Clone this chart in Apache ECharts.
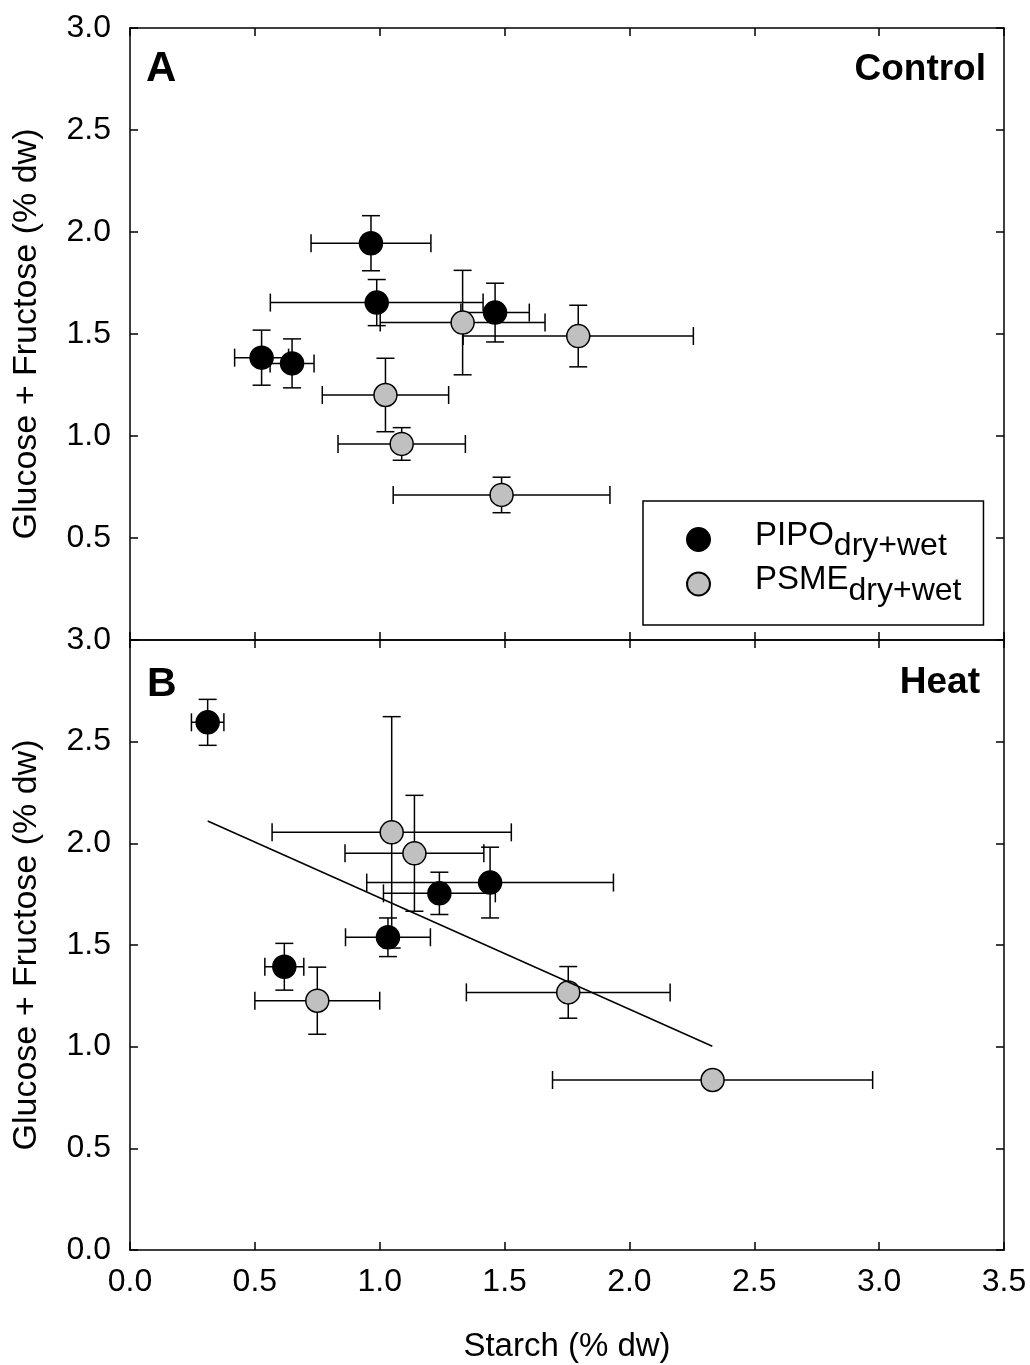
<!DOCTYPE html>
<html>
<head>
<meta charset="utf-8">
<script src="https://cdn.jsdelivr.net/npm/echarts@6/dist/echarts.min.js"></script>
<style>html,body{margin:0;padding:0;background:#fff}#c{width:1030px;height:1365px}</style>
</head>
<body>
<div id="c"></div>
<script>
// ---- Data ----
const xTicks = [0, 3.5, 0.5];      // min, max, interval (Starch)
const yTicks = [0, 3, 0.5];        // min, max, interval (Glucose + Fructose)

// Panel A (Control)
const pipoA_x    = [0.965, 0.988, 1.462, 0.527, 0.649];
const pipoA_y    = [1.945, 1.654, 1.605, 1.384, 1.356];
const pipoA_xerr = [0.240, 0.426, 0.137, 0.108, 0.088];
const pipoA_yerr = [0.135, 0.113, 0.144, 0.135, 0.120];

const psmeA_x    = [1.332, 1.795, 1.023, 1.088, 1.488];
const psmeA_y    = [1.556, 1.490, 1.201, 0.961, 0.711];
const psmeA_xerr = [0.330, 0.461, 0.253, 0.255, 0.434];
const psmeA_yerr = [0.256, 0.151, 0.180, 0.080, 0.087];

// Panel B (Heat)
const pipoB_x    = [0.311, 1.442, 1.239, 1.033, 0.618];
const pipoB_y    = [2.595, 1.807, 1.754, 1.538, 1.393];
const pipoB_xerr = [0.065, 0.494, 0.224, 0.170, 0.078];
const pipoB_yerr = [0.113, 0.174, 0.104, 0.095, 0.115];

const psmeB_x    = [1.048, 1.139, 0.750, 1.755, 2.333];
const psmeB_y    = [2.054, 1.951, 1.226, 1.267, 0.836];
const psmeB_xerr = [0.479, 0.278, 0.250, 0.408, 0.641];
const psmeB_yerr = [0.569, 0.285, 0.165, 0.127, 0.025];

// Regression line in panel B: y = intercept + slope * x, over x range
const regB = { intercept: 2.28, slope: -0.548 };
const regB_xRange = [0.311, 2.332];

const seriesNames = ['PIPO', 'PSME'];
const panelLabels = ['A', 'B'];
const panelTitles = ['Control', 'Heat'];
const xTitle = 'Starch (% dw)';
const yTitle = 'Glucose + Fructose (% dw)';
const subscript = 'dry+wet';

// ---- Build ----
const FONT = '"Liberation Sans", Arial, sans-serif';
const zip = (xs, ys, ex, ey) => xs.map((x, i) => [x, ys[i], ex[i], ey[i]]);

function errRender(params, api) {
  const x = api.value(0), y = api.value(1), ex = api.value(2), ey = api.value(3);
  const l = api.coord([x - ex, y]), r = api.coord([x + ex, y]);
  const t = api.coord([x, y + ey]), b = api.coord([x, y - ey]);
  const cap = 9;
  const st = { stroke: '#000', lineWidth: 1.5 };
  const ln = (x1, y1, x2, y2) => ({ type: 'line', shape: { x1, y1, x2, y2 }, style: st });
  return {
    type: 'group',
    children: [
      ln(l[0], l[1], r[0], r[1]),
      ln(t[0], t[1], b[0], b[1]),
      ln(l[0], l[1] - cap, l[0], l[1] + cap),
      ln(r[0], r[1] - cap, r[0], r[1] + cap),
      ln(t[0] - cap, t[1], t[0] + cap, t[1]),
      ln(b[0] - cap, b[1], b[0] + cap, b[1])
    ]
  };
}

const mkLine = () => ({ show: true, onZero: false, lineStyle: { color: '#000', width: 1.5 } });
const mkTick = () => ({ show: true, inside: true, length: 8, lineStyle: { color: '#000', width: 1.5 } });

function xAx(grid, pos, labels) {
  return {
    type: 'value', gridIndex: grid, position: pos,
    min: xTicks[0], max: xTicks[1], interval: xTicks[2],
    axisLine: mkLine(), axisTick: mkTick(), splitLine: { show: false },
    axisLabel: { show: labels, margin: 16, fontSize: 32, fontFamily: FONT, color: '#000',
      formatter: v => v.toFixed(1) },
    name: labels ? xTitle : '', nameLocation: 'middle', nameGap: 80,
    nameTextStyle: { fontSize: 33, fontFamily: FONT, color: '#000' }
  };
}
function yAx(grid, pos, labels, showMin) {
  return {
    type: 'value', gridIndex: grid, position: pos,
    min: yTicks[0], max: yTicks[1], interval: yTicks[2],
    axisLine: mkLine(), axisTick: mkTick(), splitLine: { show: false },
    axisLabel: { show: labels, showMinLabel: showMin, margin: 19, fontSize: 32, fontFamily: FONT, color: '#000',
      formatter: v => v.toFixed(1) },
    name: labels ? yTitle : '', nameLocation: 'middle', nameGap: 86,
    nameTextStyle: { fontSize: 34, fontFamily: FONT, color: '#000' }
  };
}

const symbolSize = 23;
const blackStyle = { color: '#000', borderColor: '#000', borderWidth: 1.5, opacity: 1 };
const grayStyle = { color: '#c0c0c0', borderColor: '#000', borderWidth: 1.5, opacity: 1 };

function scatter(name, grid, xs, ys, style) {
  return {
    type: 'scatter', name, xAxisIndex: grid * 2, yAxisIndex: grid * 2,
    data: xs.map((x, i) => [x, ys[i]]), symbol: 'circle', symbolSize,
    itemStyle: style, z: 3, silent: true
  };
}
function errs(grid, data) {
  return {
    type: 'custom', xAxisIndex: grid * 2, yAxisIndex: grid * 2,
    data, renderItem: errRender, encode: { x: 0, y: 1 }, z: 2, silent: true, clip: false
  };
}

const regData = regB_xRange.map(x => [x, regB.intercept + regB.slope * x]);

const option = {
  backgroundColor: '#fff',
  animation: false,
  grid: [
    { left: 130, top: 28, width: 874, height: 612 },
    { left: 130, top: 640, width: 874, height: 610 }
  ],
  xAxis: [xAx(0, 'bottom', false), xAx(0, 'top', false), xAx(1, 'bottom', true), xAx(1, 'top', false)],
  yAxis: [yAx(0, 'left', true, false), yAx(0, 'right', false, false), yAx(1, 'left', true, true), yAx(1, 'right', false, false)],
  title: [
    { text: panelLabels[0], left: 146, top: 48, padding: 0, textStyle: { fontSize: 42, fontWeight: 'bold', fontFamily: FONT, color: '#000' } },
    { text: panelTitles[0], right: 44, top: 51, padding: 0, textStyle: { fontSize: 37, fontWeight: 'bold', fontFamily: FONT, color: '#000' } },
    { text: panelLabels[1], left: 147, top: 664, padding: 0, textStyle: { fontSize: 41, fontWeight: 'bold', fontFamily: FONT, color: '#000' } },
    { text: panelTitles[1], right: 50, top: 664, padding: 0, textStyle: { fontSize: 37, fontWeight: 'bold', fontFamily: FONT, color: '#000' } }
  ],
  legend: {
    data: seriesNames,
    orient: 'vertical',
    left: 643, top: 501,
    padding: [18, 22, 18, 43],
    itemGap: 1,
    itemWidth: 23, itemHeight: 23,
    icon: 'circle',
    selectedMode: false,
    borderColor: '#000', borderWidth: 1.5, borderRadius: 0,
    backgroundColor: '#fff',
    formatter: n => '{m|' + n + '}{s|' + subscript + '}',
    textStyle: {
      fontFamily: FONT, color: '#000',
      rich: {
        m: { fontSize: 33, fontFamily: FONT, color: '#000', lineHeight: 36, padding: [0, 0, 8, 40] },
        s: { fontSize: 32, fontFamily: FONT, color: '#000', lineHeight: 32, padding: [9, 0, 0, 0], verticalAlign: 'top' }
      }
    }
  },
  series: [
    errs(0, zip(pipoA_x, pipoA_y, pipoA_xerr, pipoA_yerr)),
    errs(0, zip(psmeA_x, psmeA_y, psmeA_xerr, psmeA_yerr)),
    errs(1, zip(pipoB_x, pipoB_y, pipoB_xerr, pipoB_yerr)),
    errs(1, zip(psmeB_x, psmeB_y, psmeB_xerr, psmeB_yerr)),
    scatter(seriesNames[0], 0, pipoA_x, pipoA_y, blackStyle),
    scatter(seriesNames[1], 0, psmeA_x, psmeA_y, grayStyle),
    scatter(seriesNames[0], 1, pipoB_x, pipoB_y, blackStyle),
    scatter(seriesNames[1], 1, psmeB_x, psmeB_y, grayStyle),
    {
      type: 'line', xAxisIndex: 2, yAxisIndex: 2, data: regData,
      showSymbol: false, symbol: 'none', lineStyle: { color: '#000', width: 1.5 }, z: 4, silent: true
    }
  ]
};

const chart = echarts.init(document.getElementById('c'), null, { renderer: 'canvas' });
chart.setOption(option);
</script>
</body>
</html>
